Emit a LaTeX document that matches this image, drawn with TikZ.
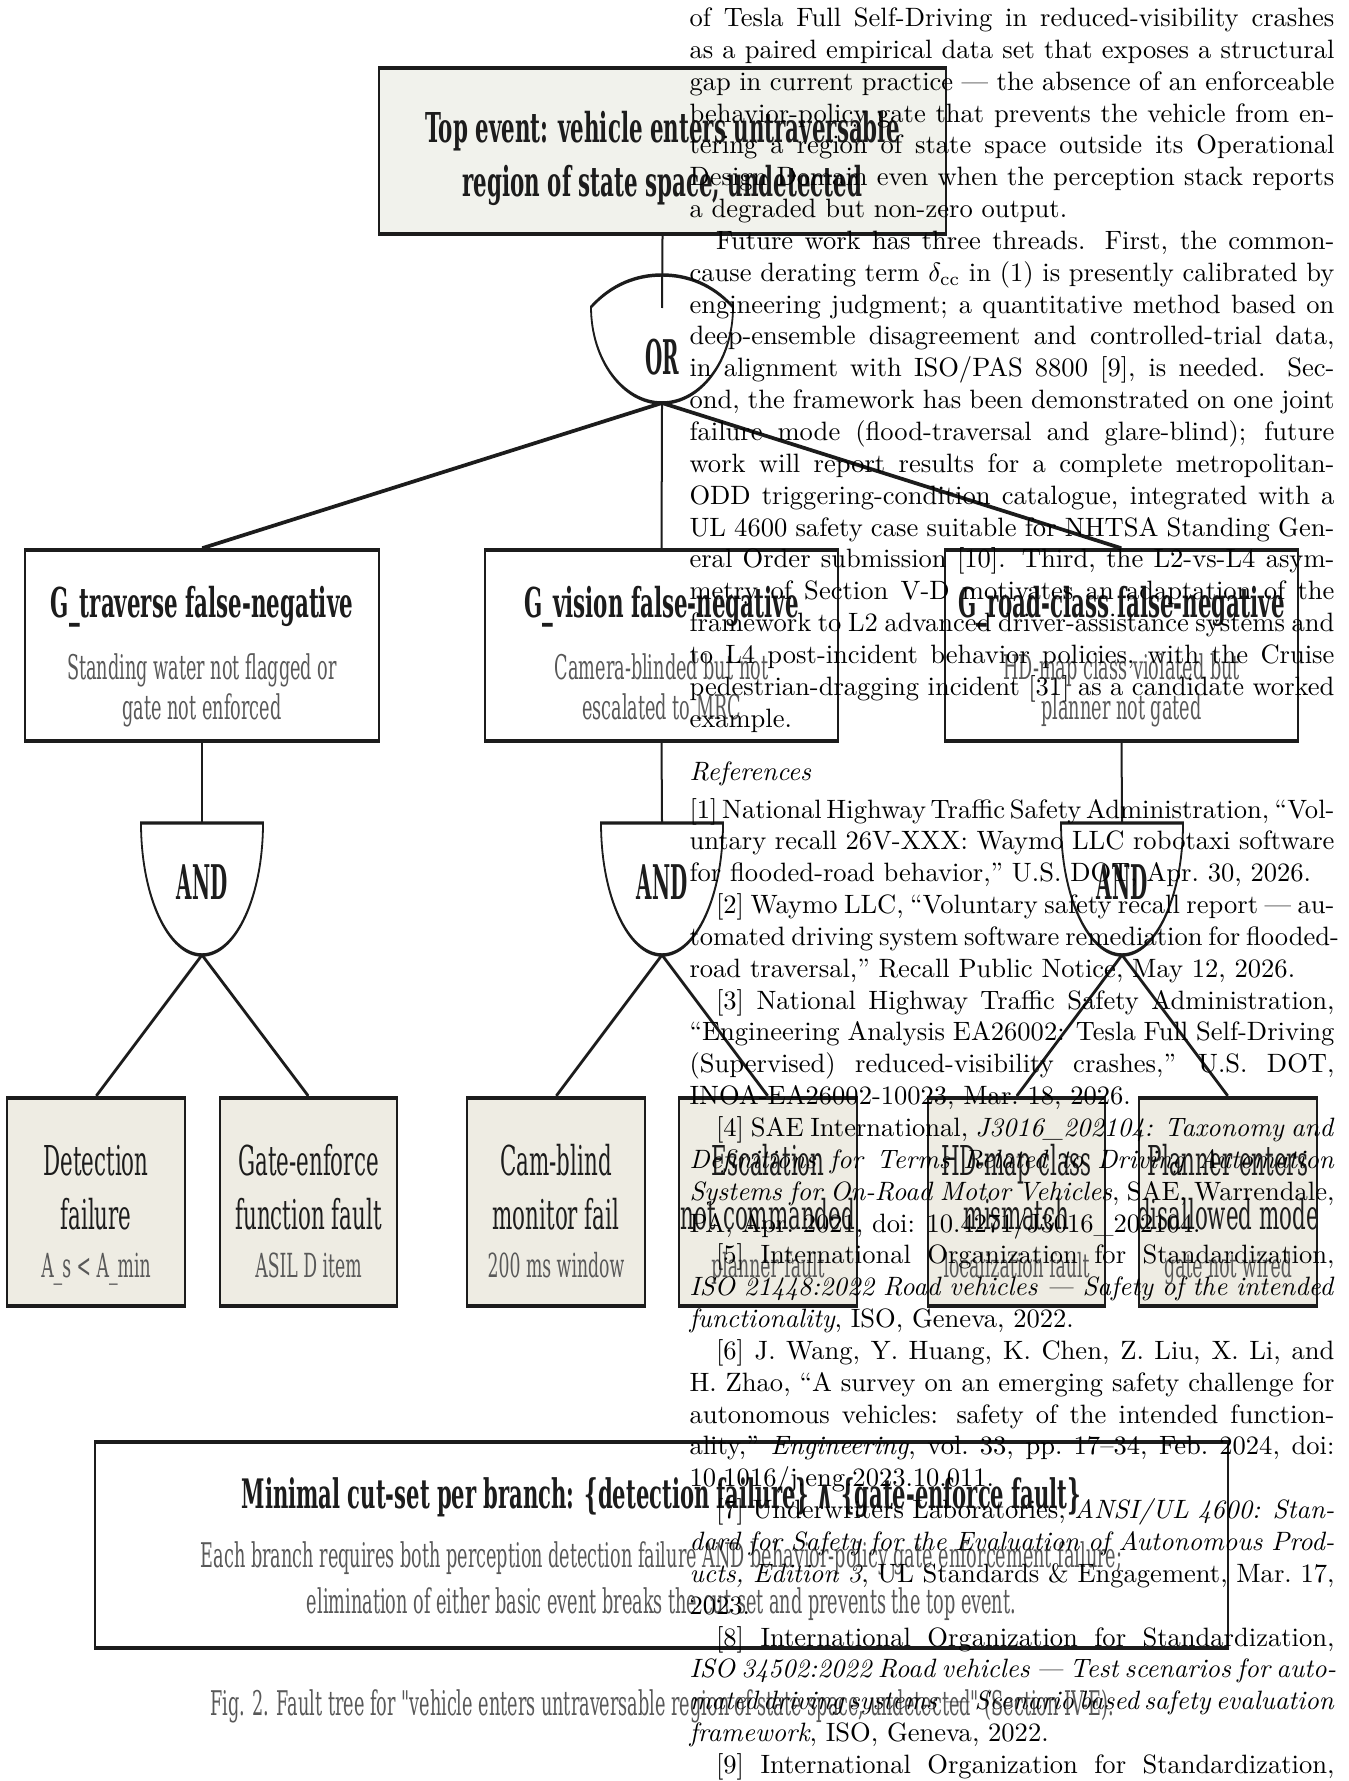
\documentclass[tikz,border=0pt]{standalone}
\usepackage{fontspec}
\usetikzlibrary{fit}
\newfontfamily\figfont{DejaVu Serif}
\newfontfamily\wedgefont{DejaVu Sans}
\newcommand\sq{\XeTeXglyph\XeTeXcharglyph"22\relax}
\definecolor{ink}{HTML}{1C1C1C}
\definecolor{subgray}{HTML}{585858}
\definecolor{topfill}{HTML}{F1F2EC}
\definecolor{basicfill}{HTML}{EEECE3}
\newlength\cw
\setlength\cw{243pt}
\newcommand\jline[1]{\hbox to\cw{#1}}
\newcommand\jtight[1]{\hbox to\cw{\spaceskip=3.3pt plus 1pt minus 1.8pt\xspaceskip=3.3pt plus 1pt minus 1.8pt #1}}
\newcommand\lline[1]{\hbox to\cw{#1\hfil}}
\newcommand\ind{\hskip 1em}
\newcommand\twol[2]{\begin{tabular}[t]{@{}c@{}}#1\\#2\end{tabular}}
\newcommand\narrowlbl[1]{\scalebox{0.8}[1]{#1}}
\begin{document}
\begin{tikzpicture}[x=0.3768pt,y=-0.3768pt]
\fill[white] (0,0) rectangle (1348,1781);
\useasboundingbox (0,0) rectangle (1348,1781);
\begin{scope}[x=0.72462pt, transform canvas={xscale=0.52},
  box/.style={inner sep=0pt, draw=ink, line width=1.3pt},
  conn/.style={draw=ink, line width=1.45pt},
  gate/.style={draw=ink, line width=1.3pt},
  ttl/.style={inner sep=0pt, anchor=base, text=ink, font=\figfont\bfseries\fontsize{15.5}{20.35}\selectfont},
  gsub/.style={inner sep=0pt, anchor=base, text=subgray, font=\figfont\fontsize{12.8}{14.7}\selectfont},
  glbl/.style={inner sep=0pt, anchor=base, text=ink, font=\figfont\bfseries\fontsize{18}{20}\selectfont},
  bmain/.style={inner sep=0pt, anchor=base, text=ink, font=\figfont\fontsize{15.5}{20.35}\selectfont},
  bsub/.style={inner sep=0pt, anchor=base, text=subgray, font=\figfont\fontsize{12.5}{14}\selectfont},
  cuth/.style={inner sep=0pt, anchor=base, text=ink, font=\figfont\bfseries\fontsize{15.3}{18}\selectfont},
  cuts/.style={inner sep=0pt, anchor=base, text=subgray, font=\figfont\fontsize{12.8}{17.33}\selectfont},
  capt/.style={inner sep=0pt, anchor=base, text=subgray, font=\figfont\fontsize{12.8}{14}\selectfont}]
% boxes
\node[box, fill=topfill, line width=1.6pt, fit={(379,68) (946,234)}] (top) {};
\node[box, fill=white, fit={(25,550) (379,741)}] (g1) {};
\node[box, fill=white, fit={(485,550) (838,741)}] (g2) {};
\node[box, fill=white, fit={(945,550) (1298,741)}] (g3) {};
\node[box, fill=basicfill, fit={(7,1098) (185,1306)}] (b1) {};
\node[box, fill=basicfill, fit={(220,1098) (397,1306)}] (b2) {};
\node[box, fill=basicfill, fit={(467,1098) (645,1306)}] (b3) {};
\node[box, fill=basicfill, fit={(679,1098) (857,1306)}] (b4) {};
\node[box, fill=basicfill, fit={(928,1098) (1105,1306)}] (b5) {};
\node[box, fill=basicfill, fit={(1139,1098) (1317,1306)}] (b6) {};
\node[box, fill=white, fit={(95,1442) (1228,1648)}] (cut) {};
% gate reference points
\coordinate (orIn) at (662,308);
\coordinate (orOut) at (662,403);
\coordinate (a1In) at (202,823); \coordinate (a1Out) at (202,955);
\coordinate (a2In) at (662,823); \coordinate (a2Out) at (662,955);
\coordinate (a3In) at (1122,823); \coordinate (a3Out) at (1122,955);
% OR gate
\draw[gate] (591,307) .. controls (612,284) and (637,275) .. (662,275)
  .. controls (687,275) and (712,284) .. (733,307)
  .. controls (733,360) and (701,403) .. (662,403)
  .. controls (623,403) and (591,360) .. (591,307) -- cycle;
% AND gates
\draw[gate] (141,823) -- (263,823) .. controls (263,896) and (236,955) .. (202,955)
  .. controls (168,955) and (141,896) .. (141,823) -- cycle;
\draw[gate] (601,823) -- (723,823) .. controls (723,896) and (696,955) .. (662,955)
  .. controls (628,955) and (601,896) .. (601,823) -- cycle;
\draw[gate] (1061,823) -- (1183,823) .. controls (1183,896) and (1156,955) .. (1122,955)
  .. controls (1088,955) and (1061,896) .. (1061,823) -- cycle;
% connectors
\draw[conn] (top.south) -- (orIn);
\draw[conn] (orOut) -- (g1.north);
\draw[conn] (orOut) -- (g2.north);
\draw[conn] (orOut) -- (g3.north);
\draw[conn] (g1.south) -- (a1In);
\draw[conn] (g2.south) -- (a2In);
\draw[conn] (g3.south) -- (a3In);
\draw[conn] (a1Out) -- (b1.north);
\draw[conn] (a1Out) -- (b2.north);
\draw[conn] (a2Out) -- (b3.north);
\draw[conn] (a2Out) -- (b4.north);
\draw[conn] (a3Out) -- (b5.north);
\draw[conn] (a3Out) -- (b6.north);
% texts
\node[ttl] (topT) at (662.5,143) {\twol{Top event: vehicle enters untraversable}{region of state space, undetected}};
\node[glbl] (orL) at (662,375) {\narrowlbl{OR}};
\node[glbl] (a1L) at (202,899) {\narrowlbl{AND}};
\node[glbl] (a2L) at (662,899) {\narrowlbl{AND}};
\node[glbl] (a3L) at (1122,899) {\narrowlbl{AND}};
\node[ttl] (g1T) at (202,618) {G\_traverse false-negative};
\node[ttl] (g2T) at (661.5,618) {G\_vision false-negative};
\node[ttl] (g3T) at (1121.5,618) {G\_road-class false-negative};
\node[gsub] (g1S) at (202,680) {\twol{Standing water not flagged or}{gate not enforced}};
\node[gsub] (g2S) at (661.5,680) {\twol{Camera-blinded but not}{escalated to MRC}};
\node[gsub] (g3S) at (1121.5,680) {\twol{HD-map class violated but}{planner not gated}};
\node[bmain] (b1T) at (96,1175) {\twol{Detection}{failure}};
\node[bmain] (b2T) at (308.5,1175) {\twol{Gate-enforce}{function fault}};
\node[bmain] (b3T) at (556,1175) {\twol{Cam-blind}{monitor fail}};
\node[bmain] (b4T) at (768,1175) {\twol{Escalation}{not commanded}};
\node[bmain] (b5T) at (1016.5,1175) {\twol{HD-map class}{mismatch}};
\node[bmain] (b6T) at (1228,1175) {\twol{Planner enters}{disallowed mode}};
\node[bsub] (b1S) at (96,1277) {A\_s < A\_min};
\node[bsub] (b2S) at (308.5,1277) {ASIL D item};
\node[bsub] (b3S) at (556,1277) {200 ms window};
\node[bsub] (b4S) at (768,1277) {planner fault};
\node[bsub] (b5S) at (1016.5,1277) {localization fault};
\node[bsub] (b6S) at (1228,1277) {gate not wired};
\node[cuth] (cutT) at (661.5,1508) {Minimal cut-set per branch: \{detection failure\} {\wedgefont\bfseries ∧} \{gate-enforce fault\}};
\node[cuts] (cutS) at (661.5,1567) {\twol{Each branch requires both perception detection failure AND behavior-policy gate enforcement failure;}{elimination of either basic event breaks the cut set and prevents the top event.}};
\node[capt] (capt) at (662,1715) {Fig. 2. Fault tree for \sq vehicle enters untraversable region of state space, undetected\sq\ (Section IV-E).};
\end{scope}
% overlaid page text
\node[anchor=base west, inner sep=0pt, font=\fontsize{10}{12}\selectfont] (body) at (689,26.5) {\vtop{\baselineskip=12pt\lineskiplimit=-\maxdimen
\jline{of Tesla Full Self-Driving in reduced-visibility crashes}
\jline{as a paired empirical data set that exposes a structural}
\jline{gap in current practice — the absence of an enforceable}
\jline{behavior-policy gate that prevents the vehicle from en-}
\jline{tering a region of state space outside its Operational}
\jline{Design Domain even when the perception stack reports}
\lline{a degraded but non-zero output.}
\jline{\ind Future work has three threads. First, the common-}
\jline{cause derating term $\delta_{\mathrm{cc}}$ in (1) is presently calibrated by}
\jline{engineering judgment; a quantitative method based on}
\jline{deep-ensemble disagreement and controlled-trial data,}
\jline{in alignment with ISO/PAS 8800 [9], is needed. Sec-}
\jline{ond, the framework has been demonstrated on one joint}
\jline{failure mode (flood-traversal and glare-blind); future}
\jline{work will report results for a complete metropolitan-}
\jline{ODD triggering-condition catalogue, integrated with a}
\jline{UL 4600 safety case suitable for NHTSA Standing Gen-}
\jline{eral Order submission [10]. Third, the L2-vs-L4 asym-}
\jline{metry of Section V-D motivates an adaptation of the}
\jline{framework to L2 advanced driver-assistance systems and}
\jline{to L4 post-incident behavior policies, with the Cruise}
\jline{pedestrian-dragging incident [31] as a candidate worked}
\lline{example.}}};
\node[anchor=base west, inner sep=0pt, font=\fontsize{10}{12}\selectfont\itshape] (refh) at (689,780.5) {References};
\node[anchor=base west, inner sep=0pt, font=\fontsize{10}{12}\selectfont] (refs) at (689,818) {\vtop{\baselineskip=12pt\lineskiplimit=-\maxdimen
\jtight{[1] National Highway Traffic Safety Administration, “Vol-}
\jline{untary recall 26V-XXX: Waymo LLC robotaxi software}
\lline{for flooded-road behavior,” U.S. DOT, Apr.\ 30, 2026.}
\jline{\ind[2] Waymo LLC, “Voluntary safety recall report — au-}
\jline{tomated driving system software remediation for flooded-}
\lline{road traversal,” Recall Public Notice, May 12, 2026.}
\jline{\ind[3] National Highway Traffic Safety Administration,}
\jline{“Engineering Analysis EA26002: Tesla Full Self-Driving}
\jline{(Supervised) reduced-visibility crashes,” U.S. DOT,}
\lline{INOA-EA26002-10023, Mar.\ 18, 2026.}
\jline{\ind[4] SAE International, \textit{J3016\_202104: Taxonomy and}}
\jline{\textit{Definitions for Terms Related to Driving Automation}}
\jline{\textit{Systems for On-Road Motor Vehicles}, SAE, Warrendale,}
\lline{PA, Apr.\ 2021, doi: 10.4271/J3016\_202104.}
\jline{\ind[5] International Organization for Standardization,}
\jline{\textit{ISO 21448:2022 Road vehicles — Safety of the intended}}
\lline{\textit{functionality}, ISO, Geneva, 2022.}
\jline{\ind[6] J. Wang, Y. Huang, K. Chen, Z. Liu, X. Li, and}
\jline{H. Zhao, “A survey on an emerging safety challenge for}
\jline{autonomous vehicles: safety of the intended function-}
\jline{ality,” \textit{Engineering}, vol.\ 33, pp.\ 17–34, Feb.\ 2024, doi:}
\lline{10.1016/j.eng.2023.10.011.}
\jline{\ind[7] Underwriters Laboratories, \textit{ANSI/UL 4600: Stan-}}
\jline{\textit{dard for Safety for the Evaluation of Autonomous Prod-}}
\jline{\textit{ucts, Edition 3}, UL Standards \& Engagement, Mar.\ 17,}
\lline{2023.}
\jline{\ind[8] International Organization for Standardization,}
\jline{\textit{ISO 34502:2022 Road vehicles — Test scenarios for auto-}}
\jtight{\textit{mated driving systems — Scenario based safety evaluation}}
\lline{\textit{framework}, ISO, Geneva, 2022.}
\jline{\ind[9] International Organization for Standardization,}}};
\end{tikzpicture}
\end{document}
